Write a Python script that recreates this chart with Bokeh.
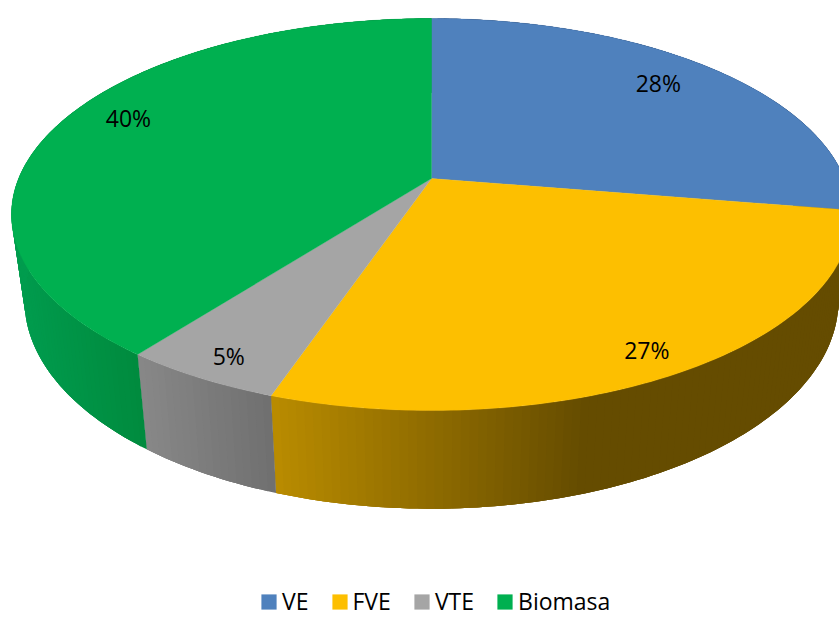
import numpy as np
from bokeh.plotting import figure
from bokeh.models import Legend, LegendItem
from bokeh.core.properties import value
from bokeh.embed import file_html
from bokeh.resources import INLINE

# data
categories = ["VE", "FVE", "VTE", "Biomasa"]
shares = [27.6, 27.6, 5.2, 39.6]
labels = ["28%", "27%", "5%", "40%"]

# styling
top_colors = ["#4F81BD", "#FDBF00", "#A5A5A5", "#00B050"]
wall_stops_x = [[0, 839], [272, 582], [146, 276], [20, 146]]
wall_stops_c = [[(50, 80, 120), (50, 80, 120)],
                [(186, 140, 0), (101, 76, 0)],
                [(135, 135, 135), (111, 111, 111)],
                [(0, 156, 78), (0, 138, 61)]]
label_radius = [0.815, 0.90, 0.907, 0.846]
label_turn = [-1.8, 1.2, -0.6, 4.3]
FONT = "Open Sans"
W, H = 839, 617
CX = 431
K = 0.1837
TOP = dict(a=412.9, b=189.4, y0=178.0)
BOT = dict(a=400.0, b=201.0, y0=262.0)


def project(theta, face, r=1.0):
    u = r * np.sin(theta)
    v = r * np.cos(theta)
    w = 1 + K * v
    return CX + face["a"] * u / w, face["y0"] - face["b"] * v / w


edges = np.concatenate([[0], np.cumsum(shares)]) / np.sum(shares) * 2 * np.pi

p = figure(width=W, height=H, x_range=(0, W), y_range=(H, 0),
           x_axis_type=None, y_axis_type=None, toolbar_location=None,
           output_backend="svg", min_border=0, outline_line_color=None)
p.grid.visible = False

# side walls: each strip overlaps the following ones, so no seams show
xs, ys, cols = [], [], []
for i in range(len(shares)):
    n = max(2, int(np.degrees(edges[i + 1] - edges[i])))
    th = np.linspace(edges[i], edges[i + 1], n + 1)
    tx, ty = project(th, TOP)
    bx, by = project(th, BOT)
    x0, x1 = wall_stops_x[i]
    c0, c1 = wall_stops_c[i]
    for j in range(n):
        e = min(j + 3, n)
        xs.append(np.concatenate([tx[j:e + 1], bx[j:e + 1][::-1]]).tolist())
        ys.append(np.concatenate([ty[j:e + 1], by[j:e + 1][::-1]]).tolist())
        t = np.clip(((tx[j] + tx[j + 1] + bx[j] + bx[j + 1]) / 4 - x0) / (x1 - x0), 0, 1)
        cols.append("#%02x%02x%02x" % tuple(int(round(a + (b - a) * t)) for a, b in zip(c0, c1)))
p.patches(xs, ys, fill_color=cols, line_color=None)

# top face
fxs, fys = [], []
for i in range(len(shares)):
    th = np.linspace(edges[i], edges[i + 1], 120)
    ex, ey = project(th, TOP)
    fxs.append(np.concatenate([[CX], ex]).tolist())
    fys.append(np.concatenate([[TOP["y0"]], ey]).tolist())
p.patches(fxs, fys, fill_color=top_colors, line_color=top_colors, line_width=0.3)

# data labels
mid = (edges[:-1] + edges[1:]) / 2 + np.radians(label_turn)
lx, ly = project(mid, TOP, np.array(label_radius))
p.text(x=lx, y=ly, y_offset=-1, text=labels, text_align="center", text_baseline="middle",
       text_font=value(FONT), text_font_size="23px", text_color="#000000")

# legend
items = []
for name, color in zip(categories, top_colors):
    r = p.rect(x=[-100], y=[-100], width=[1], height=[1], fill_color=color, line_color=None)
    items.append(LegendItem(label=value(name), renderers=[r]))
leg = Legend(items=items, orientation="horizontal", location=(259, 0),
             background_fill_alpha=0, border_line_color=None, padding=0, margin=0,
             glyph_width=19, glyph_height=19, label_standoff=4, spacing=21,
             label_text_font=FONT, label_text_font_size="23px",
             label_text_color="#000000")
p.add_layout(leg, "center")

open("out.html", "w").write(file_html(p, INLINE))
